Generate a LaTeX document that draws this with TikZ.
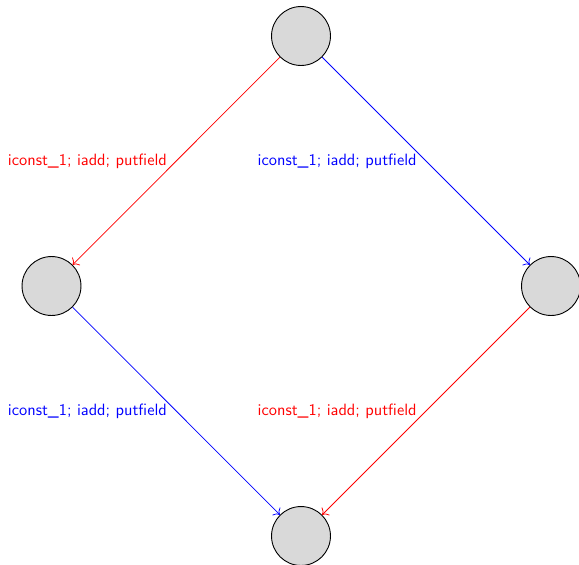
\documentclass[tikz,border=0pt]{standalone}
\usetikzlibrary{arrows.meta}
\begin{document}
\begin{tikzpicture}[x=0.6667pt,y=-0.6667pt,
  state/.style={circle,draw=black,fill=gray!30,minimum size=39.3pt,inner sep=0pt,line width=0.6pt},
  trans/.style={-{To[scale=1.3]},line width=0.5pt},
  lbl/.style={font=\sffamily\fontsize{10.9}{13}\selectfont,left,inner sep=6pt}]
\useasboundingbox (0,0) rectangle (579,564);
\node[state] (t) at (301,36) {};
\node[state] (l) at (51.5,286) {};
\node[state] (r) at (551,286) {};
\node[state] (b) at (301,536) {};
\draw[trans,red] (t) -- node[lbl,red] {iconst\_1; iadd; putfield} (l);
\draw[trans,blue] (t) -- node[lbl,blue] {iconst\_1; iadd; putfield} (r);
\draw[trans,blue] (l) -- node[lbl,blue] {iconst\_1; iadd; putfield} (b);
\draw[trans,red] (r) -- node[lbl,red] {iconst\_1; iadd; putfield} (b);
\end{tikzpicture}
\end{document}
